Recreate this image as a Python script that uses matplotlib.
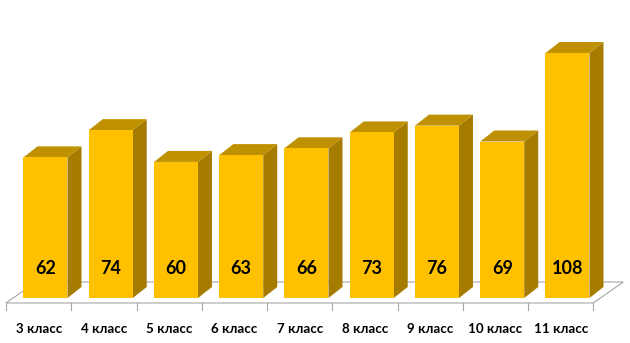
import matplotlib
matplotlib.use("Agg")
import matplotlib.pyplot as plt
from matplotlib.patches import Polygon

categories = ["3 класс", "4 класс", "5 класс", "6 класс", "7 класс",
              "8 класс", "9 класс", "10 класс", "11 класс"]
values = [62, 74, 60, 63, 66, 73, 76, 69, 108]

FRONT = "#FFC000"
TOP = "#BF9000"
SIDE = "#A67C00"
GRID = "#A6A6A6"

fig = plt.figure(figsize=(6.30, 3.43), dpi=100)
ax = fig.add_axes([0, 0, 1, 1])
ax.set_xlim(-0.697, 8.958)
ax.set_ylim(-19.84, 131.39)
ax.axis("off")

n = len(categories)
half_w = 0.337
bdx, bdy = 0.2146, 4.85       # bar depth offset
fdx, fdy = 0.46, 9.26         # floor depth offset
floor_y = -2.2
tick_off = -0.605

# floor
x0 = tick_off
x1 = n - 1 + 1 + tick_off
floor = [(x0, floor_y), (x1, floor_y), (x1 + fdx, floor_y + fdy), (x0 + fdx, floor_y + fdy)]
ax.add_patch(Polygon(floor, closed=True, fill=False, edgecolor=GRID, lw=0.8, zorder=1))
for i in range(n + 1):
    xt = i + tick_off
    ax.plot([xt, xt], [floor_y, floor_y - 3.1], color=GRID, lw=0.8, zorder=1)

for i, v in enumerate(values):
    l, r = i - half_w, i + half_w
    # side
    ax.add_patch(Polygon([(r, 0), (r + bdx, bdy), (r + bdx, v + bdy), (r, v)],
                         closed=True, facecolor=SIDE, edgecolor="none", zorder=2))
    # top
    ax.add_patch(Polygon([(l, v), (r, v), (r + bdx, v + bdy), (l + bdx, v + bdy)],
                         closed=True, facecolor=TOP, edgecolor="none", zorder=2))
    # front
    ax.add_patch(Polygon([(l, 0), (r, 0), (r, v), (l, v)],
                         closed=True, facecolor=FRONT, edgecolor="none", zorder=3))
    ax.text(i, 13.2, str(v), ha="center", va="center", fontsize=13,
            fontweight="bold", family="Lato", color="black", zorder=4)
    ax.text(i + tick_off + 0.5, -13.6, categories[i], ha="center", va="center",
            fontsize=9.6, fontweight="bold", family="Lato", color="black", zorder=4)

fig.savefig("out.png", dpi=100)
